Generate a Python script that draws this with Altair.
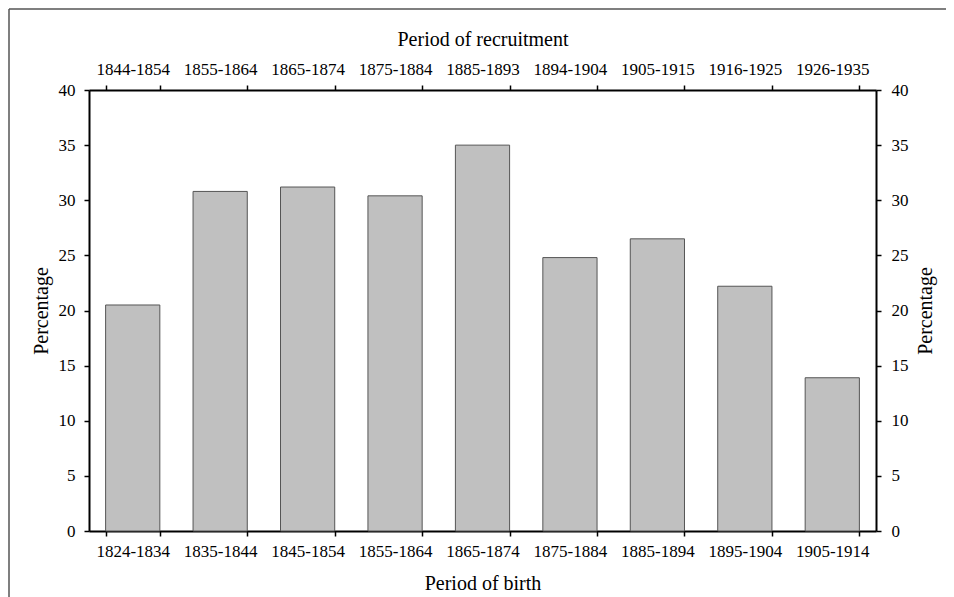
import altair as alt
import pandas as pd

birth = ["1824-1834", "1835-1844", "1845-1854", "1855-1864", "1865-1874",
         "1875-1884", "1885-1894", "1895-1904", "1905-1914"]
recruit = ["1844-1854", "1855-1864", "1865-1874", "1875-1884", "1885-1893",
           "1894-1904", "1905-1915", "1916-1925", "1926-1935"]
values = [20.5, 30.8, 31.2, 30.4, 35.0, 24.8, 26.5, 22.2, 13.9]
y_ticks = [0, 5, 10, 15, 20, 25, 30, 35, 40]

df = pd.DataFrame({"birth": birth, "recruit": recruit, "value": values})

FONT = "Liberation Serif"
W, H = 787, 441

axis_common = dict(
    labelFont=FONT, labelFontSize=17, labelColor="black",
    titleFont=FONT, titleFontSize=20, titleFontWeight="normal", titleColor="black",
    domainColor="black", domainWidth=2, tickColor="black", tickWidth=1.5,
    tickSize=5, grid=False,
)

xscale = alt.Scale(paddingInner=0.38, paddingOuter=0.19)
yscale = alt.Scale(domain=[0, 40], nice=False)

bars = alt.Chart(df).mark_bar(color="#c0c0c0", stroke="#555555", strokeWidth=1).encode(
    x=alt.X("birth:N", sort=birth, scale=xscale,
            axis=alt.Axis(orient="bottom", title="Period of birth", tickBand="extent",
                          labelAngle=0, labelPadding=7, titlePadding=14, **axis_common)),
    y=alt.Y("value:Q", scale=yscale,
            axis=alt.Axis(orient="left", title="Percentage", values=y_ticks,
                          labelPadding=9, titlePadding=7, **axis_common)),
)

top = alt.Chart(df).mark_bar(opacity=0).encode(
    x=alt.X("recruit:N", sort=recruit, scale=xscale,
            axis=alt.Axis(orient="top", title="Period of recruitment", tickBand="extent",
                          labelAngle=0, labelPadding=7, titlePadding=11, **axis_common)),
    y=alt.Y("value:Q", scale=yscale,
            axis=alt.Axis(orient="right", title="Percentage", values=y_ticks,
                          labelPadding=10, titlePadding=7, titleAngle=270,
                          titleBaseline="top", **axis_common)),
)

frame_df = pd.DataFrame({"k": [0]})
frame_top = alt.Chart(frame_df).mark_rule(color="#555555", strokeWidth=1.5).encode(
    x=alt.value(-80), x2=alt.value(W + 70), y=alt.value(-81)
)
frame_left = alt.Chart(frame_df).mark_rule(color="#555555", strokeWidth=1.5).encode(
    x=alt.value(-80), y=alt.value(-81), y2=alt.value(H + 66)
)

chart = alt.layer(bars, top, frame_top, frame_left).resolve_scale(
    x="independent", y="independent"
).properties(
    width=W, height=H,
    autosize=alt.AutoSizeParams(type="none"),
    padding={"left": 81, "top": 82, "right": 70, "bottom": 66},
).configure_view(stroke=None).configure(background="white")

chart.save("out.html", embed_options={"renderer": "svg", "actions": False})
